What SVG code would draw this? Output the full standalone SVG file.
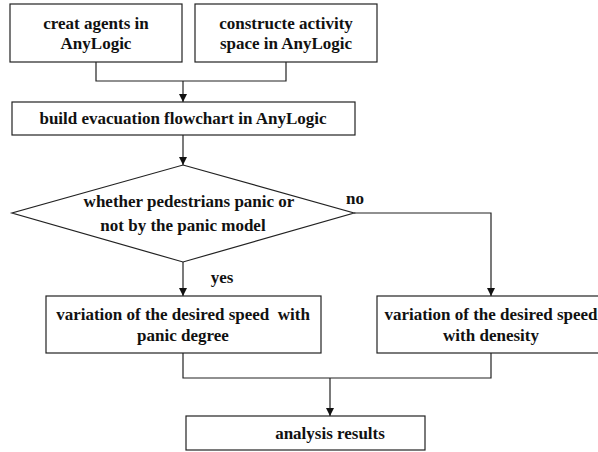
<svg xmlns="http://www.w3.org/2000/svg" width="598" height="452" viewBox="0 0 598 452">
<style>
.box{fill:#fff;stroke:#222;stroke-width:1.2}
.ln{fill:none;stroke:#222;stroke-width:1.2}
.t{font-family:'Liberation Serif','DejaVu Serif','Times New Roman',serif;font-weight:700;font-size:17px;fill:#111;text-anchor:middle}
</style>
<defs>
<marker id="arr" viewBox="0 0 10 10" refX="10" refY="5" markerWidth="8" markerHeight="8" markerUnits="userSpaceOnUse" orient="auto">
<path d="M0,0 L10,5 L0,10 Z" fill="#111"/>
</marker>
</defs>
<rect width="598" height="452" fill="#fff"/>
<g id="connectors">
<polyline class="ln" points="96,62 96,81 286,81 286,62"/>
<line class="ln" x1="183" y1="81" x2="183" y2="102" marker-end="url(#arr)"/>
<line class="ln" x1="183" y1="135" x2="183" y2="165" marker-end="url(#arr)"/>
<line class="ln" x1="183" y1="262" x2="183" y2="296" marker-end="url(#arr)"/>
<polyline class="ln" points="354,213 491,213 491,296" marker-end="url(#arr)"/>
<polyline class="ln" points="183,353 183,378 491,378 491,353"/>
<line class="ln" x1="330" y1="378" x2="330" y2="416" marker-end="url(#arr)"/>
<text class="t" x="355" y="204">no</text>
<text class="t" x="222" y="283">yes</text>
</g>
<g id="n1">
<rect class="box" x="10" y="4" width="172" height="58"/>
<text class="t" x="96" y="29">creat agents in</text>
<text class="t" x="96" y="49">AnyLogic</text>
</g>
<g id="n2">
<rect class="box" x="195" y="4" width="182" height="58"/>
<text class="t" x="286" y="29">constructe activity</text>
<text class="t" x="286" y="49">space in AnyLogic</text>
</g>
<g id="n3">
<rect class="box" x="12" y="102" width="343" height="33"/>
<text class="t" x="183" y="124">build evacuation flowchart in AnyLogic</text>
</g>
<g id="n4">
<polygon class="box" points="183,165 354,213 183,262 12,213"/>
<text class="t" x="189" y="207">whether pedestrians panic or</text>
<text class="t" x="183" y="231">not by the panic model</text>
</g>
<g id="n5">
<rect class="box" x="46" y="296" width="275" height="57"/>
<text class="t" x="183" y="320" xml:space="preserve">variation of the desired speed  with</text>
<text class="t" x="183" y="341">panic degree</text>
</g>
<g id="n6">
<rect class="box" x="377" y="296" width="225" height="57"/>
<text class="t" x="491" y="320">variation of the desired speed</text>
<text class="t" x="491" y="341">with denesity</text>
</g>
<g id="n7">
<rect class="box" x="186" y="416" width="239" height="34"/>
<text class="t" x="330" y="439">analysis results</text>
</g>
</svg>
